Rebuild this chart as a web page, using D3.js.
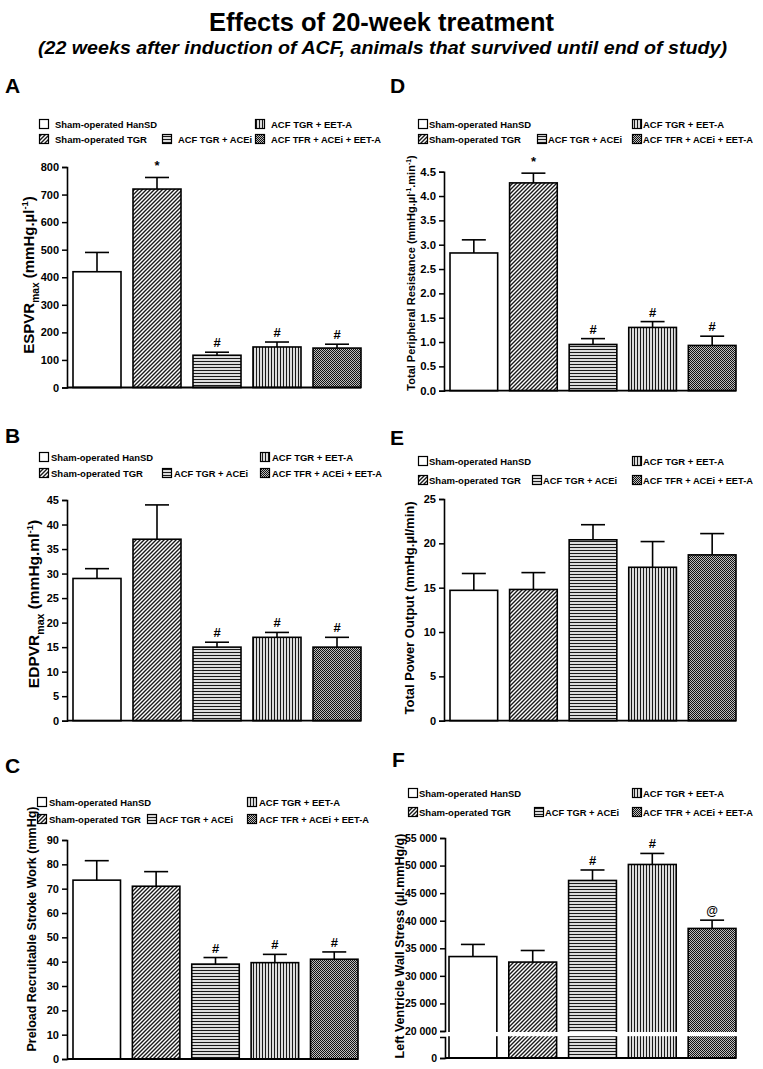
<!DOCTYPE html>
<html><head><meta charset="utf-8">
<script src="https://cdn.jsdelivr.net/npm/d3@7"></script>
<style>
body{margin:0;background:#fff}
svg{display:block}
text{font-family:"Liberation Sans",Arial,Helvetica,sans-serif;font-weight:bold;fill:#000}
</style>
</head><body>
<svg id="c" width="763" height="1069"></svg>
<script>
// ---------- DATA ----------
const groups = ["Sham-operated HanSD","Sham-operated TGR","ACF TGR + ACEi","ACF TGR + EET-A","ACF TFR + ACEi + EET-A"];
const patterns = ["none","diag","horiz","vert","check"];

const espvrMean = [420, 720, 117, 147, 143];
const espvrSem  = [70, 42, 11, 18, 14];
const espvrMarks = ["", "*", "#", "#", "#"];

const edpvrMean = [29, 37, 15, 17, 15];
const edpvrSem  = [2, 7, 1, 1, 2];
const edpvrMarks = ["", "", "#", "#", "#"];

const prswMean = [73.5, 71, 39, 39.6, 41];
const prswSem  = [8, 6, 2.7, 3.4, 3];
const prswMarks = ["", "", "#", "#", "#"];

const tprMean = [2.83, 4.27, 0.95, 1.30, 0.93];
const tprSem  = [0.27, 0.20, 0.12, 0.12, 0.19];
const tprMarks = ["", "*", "#", "#", "#"];

const tpoMean = [14.7, 14.8, 20.4, 17.3, 18.7];
const tpoSem  = [1.9, 1.9, 1.7, 2.9, 2.4];
const tpoMarks = ["", "", "", "", ""];

const lvwsMean = [33500, 32500, 47300, 50200, 38600];
const lvwsSem  = [2200, 2100, 1900, 2000, 1500];
const lvwsMarks = ["", "", "#", "#", "@"];

const ticksA = d3.range(0, 801, 100);
const ticksB = d3.range(0, 46, 5);
const ticksC = d3.range(0, 91, 10);
const ticksD = d3.range(0, 4.51, 0.5);
const ticksE = d3.range(0, 26, 5);
const ticksFUpper = d3.range(20000, 55001, 5000);
const ticksFLower = [0];

// ---------- STYLE ----------
const legendWidths = [102, 92, 74, 81, 110];

const svg = d3.select("#c");
const defs = svg.append("defs");
function pat(id, w, h, build){
  const p = defs.append("pattern").attr("id", id).attr("patternUnits","userSpaceOnUse").attr("width", w).attr("height", h);
  p.append("rect").attr("width", w).attr("height", h).attr("fill", "#fff");
  build(p);
}
pat("p-diag", 4, 4, p => p.append("path").attr("d","M-1,1 L1,-1 M0,4 L4,0 M3,5 L5,3").attr("stroke","#1a1a1a").attr("stroke-width",1.4));
pat("p-horiz", 4, 3, p => p.append("line").attr("x1",0).attr("x2",4).attr("y1",1.5).attr("y2",1.5).attr("stroke","#1a1a1a").attr("stroke-width",1.3));
pat("p-vert", 3, 4, p => p.append("line").attr("y1",0).attr("y2",4).attr("x1",1.5).attr("x2",1.5).attr("stroke","#1a1a1a").attr("stroke-width",1.3));
pat("p-check", 2, 2, p => { p.select("rect").attr("fill","#bdbdbd"); p.append("rect").attr("width",1).attr("height",1).attr("fill","#111"); p.append("rect").attr("x",1).attr("y",1).attr("width",1).attr("height",1).attr("fill","#111"); });
const fillOf = k => k === "none" ? "#fff" : `url(#p-${k})`;

// Title
svg.append("text").attr("x", 381.5).attr("y", 31).attr("text-anchor","middle").attr("font-size", 25.5)
  .attr("textLength", 345).attr("lengthAdjust","spacingAndGlyphs").text("Effects of 20-week treatment");
svg.append("text").attr("x", 382.5).attr("y", 54).attr("text-anchor","middle").attr("font-size", 19).attr("font-style","italic")
  .attr("textLength", 689).attr("lengthAdjust","spacingAndGlyphs")
  .text("(22 weeks after induction of ACF, animals that survived until end of study)");

const panels = [
  {letter:"A", lp:[5,93], ax:67, bx:[73,361], yr:[387.5,167], dom:[0,800], ticks:ticksA, fmt:d3.format("d"), tfs:11,
   leg:[124,139], cols:[39,162,255], toff:16, lab:[{t:"ESPVR"},{t:"max",s:"sub"},{t:" (mmHg.µl"},{t:"-1",s:"sup"},{t:")"}], lxy:[34,275], lfs:15,
   mean:espvrMean, sem:espvrSem, marks:espvrMarks},
  {letter:"B", lp:[5,443], ax:67, bx:[73,361], yr:[720.7,500], dom:[0,45], ticks:ticksB, fmt:d3.format("d"), tfs:11,
   leg:[457,473], cols:[39,162,260], toff:12, lab:[{t:"EDPVR"},{t:"max",s:"sub"},{t:" (mmHg.ml"},{t:"-1",s:"sup"},{t:")"}], lxy:[39,604], lfs:15.5,
   mean:edpvrMean, sem:edpvrSem, marks:edpvrMarks},
  {letter:"C", lp:[5,773], ax:67, bx:[73,358], yr:[1059,840], dom:[0,90], ticks:ticksC, fmt:d3.format("d"), tfs:11,
   leg:[802,819], cols:[37,147,247], toff:12, lab:[{t:"Preload Recruitable Stroke Work (mmHg)"}], lxy:[36,929], lfs:12.5,
   mean:prswMean, sem:prswSem, marks:prswMarks},
  {letter:"D", lp:[390,93], ax:444, bx:[450,736], yr:[390.7,171.7], dom:[0,4.5], ticks:ticksD, fmt:d3.format(".1f"), tfs:11.3,
   leg:[124,139], cols:[418,537,632], toff:11, lab:[{t:"Total Peripheral Resistance (mmHg.µl"},{t:"-1",s:"sup"},{t:".min"},{t:"-1",s:"sup"},{t:")"}], lxy:[415,273], lfs:11,
   mean:tprMean, sem:tprSem, marks:tprMarks},
  {letter:"E", lp:[390,445], ax:444, bx:[450,736], yr:[720.7,499], dom:[0,25], ticks:ticksE, fmt:d3.format("d"), tfs:11,
   leg:[461,480], cols:[418,532,632], toff:11, lab:[{t:"Total Power Output (mmHg.µl/min)"}], lxy:[414,608], lfs:13,
   mean:tpoMean, sem:tpoSem, marks:tpoMarks},
  {letter:"F", lp:[392,767], ax:445, bx:[449,736], broken:true, yrU:[1031,838], domU:[20000,55000], yrL:[1058,1037], domL:[0,20000],
   ticksU:ticksFUpper, ticksL:ticksFLower, fmt:d => d === 0 ? "0" : d3.format(",")(d).replace(",", " "), tfs:10.5,
   leg:[793,812], cols:[408,534,632], toff:11, lab:[{t:"Left Ventricle Wall Stress (µl.mmHg/g)"}], lxy:[404,946], lfs:12.5,
   mean:lvwsMean, sem:lvwsSem, marks:lvwsMarks}
];

function styleAxis(g, fs){
  g.selectAll("path.domain").attr("stroke","#000").attr("stroke-width",1.6);
  g.selectAll(".tick line").attr("stroke","#000").attr("stroke-width",1.5);
  g.selectAll(".tick text").attr("font-size", fs).attr("font-family",'"Liberation Sans",Arial,sans-serif').attr("font-weight","bold").attr("fill","#000");
}

panels.forEach(P => {
  const g = svg.append("g");
  g.append("text").attr("x", P.lp[0]).attr("y", P.lp[1]).attr("font-size", 21).text(P.letter);

  // legend
  const slots = [[0,0,0],[1,0,1],[2,1,1],[3,2,0],[4,2,1]]; // [group, col, row]
  slots.forEach(([gi, c, r]) => {
    const x = P.cols[c], y = P.leg[r];
    g.append("rect").attr("x", x + 0.5).attr("y", y - 4.5).attr("width", 9).attr("height", 9)
      .attr("fill", fillOf(patterns[gi])).attr("stroke","#000").attr("stroke-width",1.2);
    g.append("text").attr("x", x + P.toff).attr("y", y + 3.5).attr("font-size", 9.5)
      .attr("textLength", legendWidths[gi]).attr("lengthAdjust","spacingAndGlyphs").text(groups[gi]);
  });

  const xb = d3.scaleBand().domain(groups).range(P.bx).paddingInner(0.2).paddingOuter(0);
  let yv, yBase;
  if (!P.broken) {
    const y = d3.scaleLinear().domain(P.dom).range(P.yr);
    yv = y; yBase = y(0);
    const ag = g.append("g").attr("transform", `translate(${P.ax},0)`)
      .call(d3.axisLeft(y).tickValues(P.ticks).tickFormat(P.fmt).tickSize(5).tickSizeOuter(5).tickPadding(3));
    styleAxis(ag, P.tfs);
  } else {
    const yU = d3.scaleLinear().domain(P.domU).range(P.yrU);
    const yL = d3.scaleLinear().domain(P.domL).range(P.yrL);
    yv = v => v >= P.domU[0] ? yU(v) : yL(v);
    yBase = yL(0);
  }

  groups.forEach((gr, i) => {
    const x = xb(gr), w = xb.bandwidth();
    const top = yv(P.mean[i]);
    g.append("rect").attr("x", x).attr("y", top).attr("width", w).attr("height", yBase - top)
      .attr("fill", fillOf(patterns[i])).attr("stroke","#000").attr("stroke-width",1.6);
    const et = yv(P.mean[i] + P.sem[i]);
    const cx = x + w / 2;
    g.append("line").attr("x1", cx).attr("x2", cx).attr("y1", top).attr("y2", et).attr("stroke","#000").attr("stroke-width",1.6);
    g.append("line").attr("x1", cx - 12).attr("x2", cx + 12).attr("y1", et).attr("y2", et).attr("stroke","#000").attr("stroke-width",1.6);
    if (P.marks[i]) {
      const m = P.marks[i];
      g.append("text").attr("x", cx).attr("y", et - (m === "*" ? 7 : 5)).attr("text-anchor","middle")
        .attr("font-size", m === "@" ? 12 : 13).attr("font-weight", m === "@" ? "normal" : "bold").text(m);
    }
  });

  if (P.broken) {
    const yU = d3.scaleLinear().domain(P.domU).range(P.yrU);
    const yL = d3.scaleLinear().domain(P.domL).range(P.yrL);
    g.append("rect").attr("x", P.ax - 2).attr("y", yU(P.domU[0]) + 1).attr("width", P.bx[1] - P.ax + 6)
      .attr("height", yL(P.domL[1]) - yU(P.domU[0]) - 1.8).attr("fill","#fff");
    const au = g.append("g").attr("transform", `translate(${P.ax},0)`)
      .call(d3.axisLeft(yU).tickValues(P.ticksU).tickFormat(P.fmt).tickSize(5).tickSizeOuter(5).tickPadding(3));
    styleAxis(au, P.tfs);
    const al = g.append("g").attr("transform", `translate(${P.ax},0)`)
      .call(d3.axisLeft(yL).tickValues(P.ticksL).tickFormat(P.fmt).tickSize(5).tickSizeOuter(5).tickPadding(3));
    styleAxis(al, P.tfs);
  }

  g.append("line").attr("x1", P.ax).attr("x2", P.bx[1]).attr("y1", yBase).attr("y2", yBase).attr("stroke","#000").attr("stroke-width",1.8);

  const t = g.append("text").attr("transform", `translate(${P.lxy[0]},${P.lxy[1]}) rotate(-90)`)
    .attr("text-anchor","middle").attr("font-size", P.lfs);
  let shift = 0;
  P.lab.forEach(seg => {
    const ts = t.append("tspan").text(seg.t);
    let target = 0, fs = P.lfs;
    if (seg.s === "sub") { target = P.lfs * 0.3; fs = P.lfs * 0.68; }
    if (seg.s === "sup") { target = -P.lfs * 0.38; fs = P.lfs * 0.62; }
    ts.attr("font-size", fs);
    if (target !== shift) { ts.attr("dy", target - shift); shift = target; }
  });
});
</script>
</body></html>
